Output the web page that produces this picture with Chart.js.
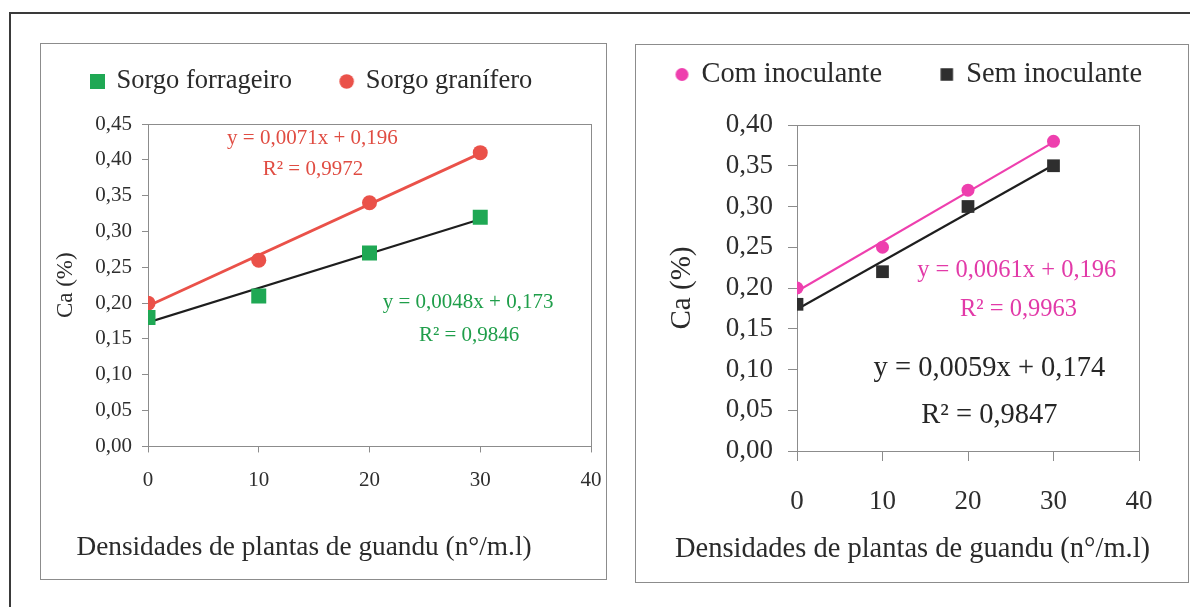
<!DOCTYPE html>
<html><head><meta charset="utf-8">
<script src="https://cdn.jsdelivr.net/npm/chart.js@4"></script>
<style>
html,body{margin:0;padding:0;background:#fff;width:1190px;height:607px;overflow:hidden;}
.frame{position:absolute;left:9px;top:12px;width:1200px;height:620px;border-left:2.5px solid #3a3a3a;border-top:2px solid #3a3a3a;}
.box{position:absolute;border:1.5px solid #8c8c8c;box-sizing:border-box;}
canvas{position:absolute;}
</style></head><body>
<div class="frame"></div>
<div class="box" style="left:40px;top:43px;width:567px;height:537px"></div>
<div class="box" style="left:635px;top:44px;width:554px;height:539px"></div>
<canvas id="c1" width="566" height="536" style="left:40px;top:43px"></canvas>
<canvas id="c2" width="552" height="538" style="left:636px;top:44px"></canvas>
<script>
// ---- data ----
const densities = [0, 10, 20, 30];
const trendX = [0, 30];
const forrageiroCa = [0.18, 0.21, 0.27, 0.32];
const graniferoCa = [0.20, 0.26, 0.34, 0.41];
const forrageiroTrend = [0.173, 0.317];
const graniferoTrend = [0.196, 0.409];
const comInoculanteCa = [0.20, 0.25, 0.32, 0.38];
const semInoculanteCa = [0.18, 0.22, 0.30, 0.35];
const comTrend = [0.196, 0.379];
const semTrend = [0.174, 0.351];
const xTicks = [0, 10, 20, 30, 40];
const yTicksLeft = [0, 0.05, 0.10, 0.15, 0.20, 0.25, 0.30, 0.35, 0.40, 0.45];
const yTicksRight = [0, 0.05, 0.10, 0.15, 0.20, 0.25, 0.30, 0.35, 0.40];
const seriesLeft = ['Sorgo forrageiro', 'Sorgo granífero'];
const seriesRight = ['Com inoculante', 'Sem inoculante'];
const eqLeft = ['y = 0,0071x + 0,196', 'R² = 0,9972', 'y = 0,0048x + 0,173', 'R² = 0,9846'];
const eqRight = ['y = 0,0061x + 0,196', 'R² = 0,9963', 'y = 0,0059x + 0,174', 'R² = 0,9847'];
const xTitle = 'Densidades de plantas de guandu (n°/m.l)';
const yTitle = 'Ca (%)';

// ---- annotation placement (data space) ----
const eqPosLeft = [[14.85, 0.430], [14.9, 0.386], [28.9, 0.201], [29.0, 0.1546]];
const eqPosRight = [[25.7, 0.222], [25.9, 0.173], [22.5, 0.101], [22.5, 0.044]];

const FONT = "'Liberation Serif', 'Times New Roman', serif";
const pts = (xs, ys) => xs.map((x, i) => ({x: x, y: ys[i]}));
const fmt = v => Number(v).toFixed(2).replace('.', ',');

// legend swatch images
function swatch(shape, size, color) {
  const c = document.createElement('canvas');
  const s = Math.ceil(size) + 2;
  c.width = s; c.height = s;
  const g = c.getContext('2d');
  g.fillStyle = color;
  if (shape === 'rect') {
    const o = (s - size) / 2;
    g.fillRect(o, o, size, size);
  } else {
    g.beginPath(); g.arc(s / 2, s / 2, size / 2, 0, Math.PI * 2); g.fill();
  }
  return c;
}

const panelFix = {
  id: 'panelFix',
  afterLayout(chart, args, o) {
    const L = chart.legend;
    if (L) {
      const pad = L.options.labels.padding;
      const fs = o.legendFont;
      L.left = o.legendX - pad;
      L.right = 5000;
      L.top = o.legendY - pad - fs / 2;
    }
    const T = chart.titleBlock;
    if (T) {
      const lh = o.titleFont * 1.2;
      T.left = o.titleX - 320;
      T.right = o.titleX + 320;
      T.top = o.titleY - lh / 2;
      T.bottom = T.top + lh;
    }
  },
  beforeDatasetsDraw(chart) {
    const a = chart.chartArea, ctx = chart.ctx;
    ctx.save();
    ctx.strokeStyle = '#8c8c8c';
    ctx.lineWidth = 1;
    ctx.strokeRect(Math.round(a.left) + 0.5, Math.round(a.top) + 0.5,
      Math.round(a.right - a.left), Math.round(a.bottom - a.top));
    ctx.restore();
  },
  afterDatasetsDraw(chart, args, o) {
    const ctx = chart.ctx, xs = chart.scales.x, ys = chart.scales.y;
    ctx.save();
    ctx.textAlign = 'center';
    ctx.textBaseline = 'middle';
    o.texts.forEach((t, i) => {
      const st = o.styles[i];
      ctx.font = st.size + 'px ' + FONT;
      ctx.fillStyle = st.color;
      ctx.fillText(t, xs.getPixelForValue(o.pos[i][0]), ys.getPixelForValue(o.pos[i][1]));
    });
    ctx.restore();
  }
};

function makeChart(id, cfg) {
  return new Chart(document.getElementById(id), {
    type: 'scatter',
    data: {datasets: cfg.datasets},
    plugins: [panelFix],
    options: {
      responsive: false,
      animation: false,
      layout: {padding: {left: 0, top: 0, right: cfg.padRight, bottom: 0}},
      scales: {
        x: {
          type: 'linear', min: 0, max: 40,
          afterBuildTicks: s => { s.ticks = xTicks.map(v => ({value: v})); },
          afterFit: s => { s.height = cfg.xHeight; s.paddingLeft = 0; s.paddingRight = 0; },
          ticks: {font: {family: FONT, size: cfg.xTickFont}, color: '#2e2e2e', padding: cfg.xTickPad, maxRotation: 0, autoSkip: false},
          grid: {drawOnChartArea: false, drawTicks: true, tickLength: cfg.xTickLen, color: '#8c8c8c'},
          border: {display: false}
        },
        y: {
          type: 'linear', min: 0, max: cfg.yMax,
          afterBuildTicks: s => { s.ticks = cfg.yTicks.map(v => ({value: v})); },
          afterFit: s => { s.width = cfg.yWidth; s.paddingTop = 0; s.paddingBottom = 0; },
          ticks: {font: {family: FONT, size: cfg.yTickFont}, color: '#2e2e2e', padding: cfg.yTickPad, callback: v => fmt(v)},
          grid: {drawOnChartArea: false, drawTicks: true, tickLength: cfg.yTickLen, color: '#8c8c8c'},
          border: {display: false},
          title: {display: true, text: yTitle, color: '#2a2a2a', font: {family: FONT, size: cfg.yTitleFont}, padding: {top: cfg.yTitlePad, bottom: 0}}
        }
      },
      plugins: {
        tooltip: {enabled: false},
        legend: {
          display: true, position: 'top', align: 'start', maxHeight: cfg.chartTop,
          labels: {
            usePointStyle: true, boxWidth: cfg.legendBox, boxHeight: cfg.legendBox,
            padding: cfg.legendPad, color: '#2a2a2a',
            font: {family: FONT, size: cfg.legendFont},
            filter: item => item.datasetIndex < 2,
            generateLabels: chart => {
              const items = Chart.defaults.plugins.legend.labels.generateLabels(chart);
              items.forEach(it => {
                const sw = cfg.swatches[it.datasetIndex];
                if (sw) it.pointStyle = sw;
              });
              return items;
            }
          }
        },
        title: {
          display: true, position: 'bottom', text: xTitle, color: '#2a2a2a', padding: 0,
          font: {family: FONT, size: cfg.titleFont, weight: 'normal', lineHeight: 1.2}
        },
        panelFix: {
          legendX: cfg.legendX, legendY: cfg.legendY, legendFont: cfg.legendFont,
          titleX: cfg.titleX, titleY: cfg.titleY, titleFont: cfg.titleFont,
          texts: cfg.eqTexts, pos: cfg.eqPos, styles: cfg.eqStyles
        }
      }
    }
  });
}

const GREEN = '#1fa854', RED = '#ea5149', MAGENTA = '#ee3fae', DARK = '#2e2e2e';

// Left chart
makeChart('c1', {
  datasets: [
    {label: seriesLeft[0], data: pts(densities, forrageiroCa), pointStyle: 'rect', pointRadius: 10.6,
     backgroundColor: GREEN, borderColor: GREEN, pointBorderWidth: 0, showLine: false, order: 0},
    {label: seriesLeft[1], data: pts(densities, graniferoCa), pointStyle: 'circle', pointRadius: 7.5,
     backgroundColor: RED, borderColor: RED, pointBorderWidth: 0, showLine: false, order: 1},
    {label: 'trend1', data: pts(trendX, forrageiroTrend), showLine: true, pointRadius: 0,
     borderColor: '#1e1e1e', borderWidth: 2.2, backgroundColor: '#1e1e1e', order: 3},
    {label: 'trend2', data: pts(trendX, graniferoTrend), showLine: true, pointRadius: 0,
     borderColor: RED, borderWidth: 2.8, backgroundColor: RED, order: 2}
  ],
  swatches: [swatch('rect', 15, GREEN), swatch('circle', 14.5, RED)],
  padRight: 15, chartTop: 81, xHeight: 99.8, yWidth: 108, yMax: 0.45, yTicks: yTicksLeft,
  xTickFont: 21, xTickPad: 15, xTickLen: 6,
  yTickFont: 21, yTickPad: 10, yTickLen: 6,
  yTitleFont: 23, yTitlePad: 12.2,
  legendBox: 11.5, legendPad: 49, legendFont: 26.5, legendX: 51.75, legendY: 38.5,
  titleFont: 27.3, titleX: 264, titleY: 505,
  eqTexts: eqLeft, eqPos: eqPosLeft,
  eqStyles: [{size: 21, color: '#e04c42'}, {size: 21, color: '#e04c42'}, {size: 21, color: '#1f9e4a'}, {size: 21, color: '#1f9e4a'}]
});

// Right chart
makeChart('c2', {
  datasets: [
    {label: seriesRight[0], data: pts(densities, comInoculanteCa), pointStyle: 'circle', pointRadius: 6.5,
     backgroundColor: MAGENTA, borderColor: MAGENTA, pointBorderWidth: 0, showLine: false, order: 0},
    {label: seriesRight[1], data: pts(densities, semInoculanteCa), pointStyle: 'rect', pointRadius: 9,
     backgroundColor: DARK, borderColor: DARK, pointBorderWidth: 0, showLine: false, order: 1},
    {label: 'trend1', data: pts(trendX, comTrend), showLine: true, pointRadius: 0,
     borderColor: MAGENTA, borderWidth: 2.2, backgroundColor: MAGENTA, order: 2},
    {label: 'trend2', data: pts(trendX, semTrend), showLine: true, pointRadius: 0,
     borderColor: '#1e1e1e', borderWidth: 2.2, backgroundColor: '#1e1e1e', order: 3}
  ],
  swatches: [swatch('circle', 13, MAGENTA), swatch('rect', 12.5, DARK)],
  padRight: 49, chartTop: 81, xHeight: 96.8, yWidth: 161, yMax: 0.40, yTicks: yTicksRight,
  xTickFont: 27, xTickPad: 24.5, xTickLen: 10,
  yTickFont: 27, yTickPad: 15, yTickLen: 9,
  yTitleFont: 29, yTitlePad: 28.6,
  legendBox: 10.5, legendPad: 59.5, legendFont: 28.4, legendX: 40.75, legendY: 30.5,
  titleFont: 28.5, titleX: 276.5, titleY: 505.5,
  eqTexts: eqRight, eqPos: eqPosRight,
  eqStyles: [{size: 24.5, color: '#e23aa8'}, {size: 24.5, color: '#e23aa8'}, {size: 28.5, color: '#262626'}, {size: 28.5, color: '#262626'}]
});
</script>
</body></html>
